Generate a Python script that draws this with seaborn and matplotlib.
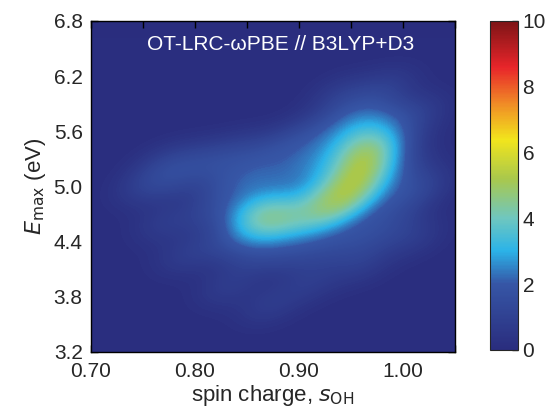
import numpy as np
import pandas as pd
import matplotlib
matplotlib.use("Agg")
import matplotlib.pyplot as plt
import seaborn as sns
from matplotlib.colors import LinearSegmentedColormap, Normalize
from matplotlib.cm import ScalarMappable

# --- Data: sampled structures (spin charge s_OH, E_max in eV) ---
# dense banana-shaped core
core_spin = [
    0.845, 0.860, 0.874, 0.888, 0.916, 0.932, 0.944, 0.953, 0.959,
    0.963, 0.966, 0.968, 0.969,
    0.852, 0.867, 0.882, 0.914, 0.926, 0.936, 0.944, 0.950, 0.955, 0.958,
    0.856, 0.871, 0.886, 0.903, 0.918, 0.933, 0.948, 0.960, 0.968, 0.973,
    0.976, 0.978,
]
core_emax = [
    4.66, 4.66, 4.66, 4.68, 4.74, 4.79, 4.87, 4.97, 5.09,
    5.21, 5.33, 5.45, 5.62,
    4.80, 4.80, 4.81, 4.87, 4.93, 5.02, 5.13, 5.26, 5.40, 5.55,
    4.52, 4.52, 4.54, 4.56, 4.60, 4.65, 4.73, 4.84, 4.98, 5.12,
    5.27, 5.42,
]
# ring of structures close to the core
inner_spin = [
    0.815, 0.825, 0.845, 0.870, 0.895, 0.915, 0.928, 0.935, 0.945, 0.965,
    0.985, 0.997, 1.003, 1.000, 0.990, 0.970, 0.945, 0.915, 0.885, 0.855,
    0.830, 0.820, 0.860, 0.900,
]
inner_emax = [
    4.70, 4.95, 5.05, 5.08, 5.10, 5.18, 5.35, 5.55, 5.75, 5.85,
    5.75, 5.50, 5.20, 4.90, 4.65, 4.48, 4.38, 4.30, 4.25, 4.25,
    4.38, 5.20, 5.25, 5.35,
]
# sparse outer structures
outer_spin = [
    0.750, 0.770, 0.800, 0.840, 0.880, 0.910, 0.940, 0.985, 1.015, 1.020,
    1.010, 0.960, 0.910, 0.870, 0.830, 0.790, 0.770, 0.780,
]
outer_emax = [
    5.00, 5.25, 5.30, 5.40, 5.45, 5.60, 6.00, 6.10, 5.80, 5.00,
    4.45, 4.15, 3.95, 3.70, 3.90, 4.25, 4.60, 5.05,
]

df = pd.DataFrame({
    "spin": core_spin + inner_spin + outer_spin,
    "emax": core_emax + inner_emax + outer_emax,
})

x_ticks = [0.70, 0.75, 0.80, 0.85, 0.90, 0.95, 1.00, 1.05]
x_labels = ["0.70", "", "0.80", "", "0.90", "", "1.00", ""]
y_ticks = [3.2, 3.8, 4.4, 5.0, 5.6, 6.2, 6.8]
cbar_ticks = [0, 2, 4, 6, 8, 10]

# muted jet-like map as printed in the figure
cmap = LinearSegmentedColormap.from_list("printjet", [
    (0.00, "#2a2d7e"), (0.20, "#3656a6"), (0.30, "#2bb3e8"),
    (0.40, "#6fc7bf"), (0.52, "#a9c84c"), (0.64, "#f2e51c"),
    (0.75, "#f08a26"), (0.86, "#e8252a"), (1.00, "#7d1416"),
])
norm = Normalize(0, 10)

sns.set_theme(style="ticks")
plt.rcParams["font.family"] = ["Liberation Sans", "DejaVu Sans"]

fig = plt.figure(figsize=(5.45, 4.17), dpi=100)
ax = fig.add_axes([0.167, 0.156, 0.668, 0.794])
cax = fig.add_axes([0.899, 0.161, 0.051, 0.789])
ax.set_facecolor(cmap(0.0))

sns.kdeplot(data=df, x="spin", y="emax", fill=True, thresh=0, levels=100,
            cmap=cmap, norm=norm, bw_adjust=0.7, gridsize=200, ax=ax,
            antialiased=False)

ax.set_xlim(0.70, 1.05)
ax.set_ylim(3.2, 6.8)
ax.set_xticks(x_ticks)
ax.set_xticklabels(x_labels)
ax.set_yticks(y_ticks)
ax.set_yticklabels([f"{v:.1f}" for v in y_ticks])
ax.tick_params(direction="in", top=True, right=True, length=5, width=1,
               labelsize=15, color="black")
ax.tick_params(axis="x", pad=7)
ax.tick_params(axis="y", pad=6)
for s in ax.spines.values():
    s.set_linewidth(1)
    s.set_color("black")

ax.set_xlabel("spin charge, $s_{\\mathrm{OH}}$", fontsize=16, labelpad=2)
ax.set_ylabel("$E_{\\mathrm{max}}$ (eV)", fontsize=16, labelpad=4)
ax.text(0.52, 0.93, "OT-LRC-ωPBE // B3LYP+D3", transform=ax.transAxes,
        ha="center", va="center", color="white", fontsize=15)

cb = fig.colorbar(ScalarMappable(norm=norm, cmap=cmap), cax=cax, ticks=cbar_ticks)
cb.ax.tick_params(direction="in", length=4, width=1, labelsize=15)
cb.outline.set_linewidth(0.8)

fig.savefig("out.png", dpi=100)
